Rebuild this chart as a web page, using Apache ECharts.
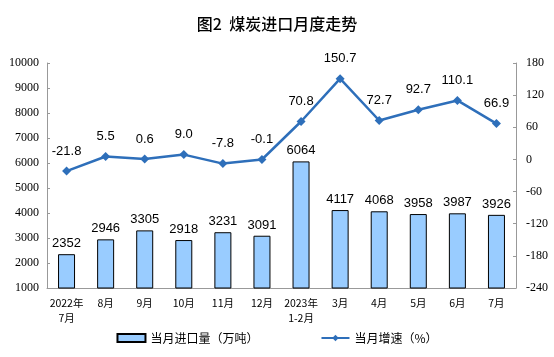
<!DOCTYPE html>
<html><head><meta charset="utf-8">
<script src="https://cdn.jsdelivr.net/npm/echarts@6/dist/echarts.min.js"></script>
<style>html,body{margin:0;padding:0;background:#fff}#c{width:554px;height:357px}</style>
</head><body><div id="c"></div>
<script>
const categories = ['2022年\n7月','8月','9月','10月','11月','12月','2023年\n1-2月','3月','4月','5月','6月','7月'];
const imports = [2352,2946,3305,2918,3231,3091,6064,4117,4068,3958,3987,3926];
const growth = [-21.8,5.5,0.6,9.0,-7.8,-0.1,70.8,150.7,72.7,92.7,110.1,66.9];
const growthLabels = ['-21.8','5.5','0.6','9.0','-7.8','-0.1','70.8','150.7','72.7','92.7','110.1','66.9'];

const chart = echarts.init(document.getElementById('c'));
const serif = 'Liberation Serif';
const cjk = '"Noto Sans CJK SC", sans-serif';
chart.setOption({
  animation:false,
  title:{text:'图2  煤炭进口月度走势',left:'center',top:11,textStyle:{fontFamily:cjk,fontSize:16,fontWeight:500,color:'#000'}},
  grid:{left:47,right:38,top:63,bottom:69},
  legend:{bottom:8,left:'center',itemGap:62,itemWidth:28,itemHeight:8,
    textStyle:{fontFamily:cjk,fontSize:12,color:'#000'},
    data:[{name:'当月进口量（万吨）',icon:'rect'},{name:'当月增速（%）'}]},
  xAxis:{type:'category',data:categories,
    axisLine:{onZero:false,lineStyle:{color:'#999'}},
    axisTick:{inside:true,length:3,lineStyle:{color:'#999'}},
    axisLabel:{interval:0,fontFamily:cjk,fontSize:10.5,color:'#000',lineHeight:15,margin:8}},
  yAxis:[
    {type:'value',min:1000,max:10000,interval:1000,
      axisLine:{show:true,lineStyle:{color:'#999'}},
      axisTick:{show:true,inside:true,length:3,lineStyle:{color:'#999'}},
      splitLine:{show:false},
      axisLabel:{fontFamily:serif,fontSize:12,color:'#000',margin:8,formatter:v=>String(v)}},
    {type:'value',min:-240,max:180,interval:60,
      axisLine:{show:true,lineStyle:{color:'#999'}},
      axisTick:{show:true,inside:true,length:3,lineStyle:{color:'#999'}},
      splitLine:{show:false},
      axisLabel:{fontFamily:serif,fontSize:12,color:'#000',margin:10,formatter:v=>String(v)}}
  ],
  series:[
    {name:'当月进口量（万吨）',type:'bar',data:imports,barWidth:17,
      itemStyle:{color:'#99CCFF',borderColor:'#000',borderWidth:1},
      label:{show:true,position:'top',fontFamily:'Liberation Sans',fontSize:13,color:'#000',distance:4}},
    {name:'当月增速（%）',type:'line',yAxisIndex:1,data:growth,
      symbol:'diamond',symbolSize:9,
      lineStyle:{color:'#2E6FBA',width:2.5},itemStyle:{color:'#2E6FBA'},
      label:{show:true,position:'top',distance:9,fontFamily:'Liberation Sans',fontSize:13,color:'#000',
        formatter:p=>growthLabels[p.dataIndex]}}
  ]
});
</script></body></html>
